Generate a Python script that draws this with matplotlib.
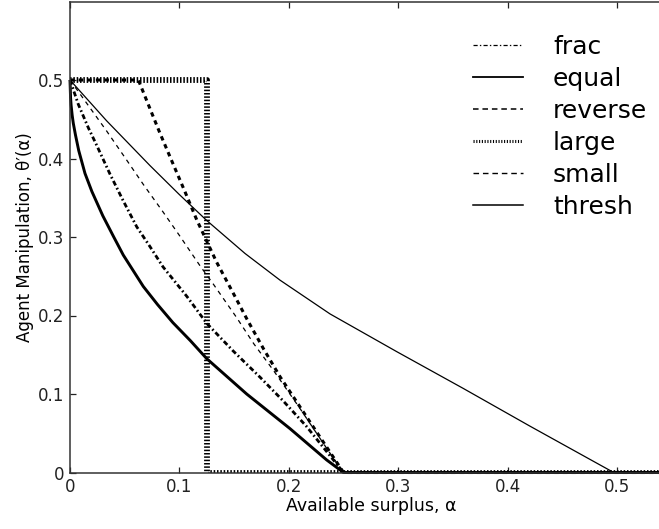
import matplotlib
matplotlib.use("Agg")
import matplotlib.pyplot as plt
from matplotlib.lines import Line2D

plt.rcParams['font.family'] = ['DejaVu Sans']
plt.rcParams['lines.scale_dashes'] = False

# ---- data ----
frac_a = [0, 0.0076, 0.0168, 0.024, 0.0366, 0.0487, 0.061, 0.073, 0.085, 0.107, 0.125, 0.149, 0.174, 0.195, 0.216, 0.235, 0.25, 0.55]
frac_t = [0.5, 0.469, 0.439, 0.418, 0.38, 0.346, 0.313, 0.288, 0.262, 0.224, 0.19, 0.155, 0.121, 0.091, 0.059, 0.026, 0.0, 0.0]

equal_a = [0, 0.0005, 0.001, 0.002, 0.003, 0.005, 0.008, 0.0137, 0.02, 0.03, 0.04, 0.0487, 0.067, 0.08, 0.094, 0.11, 0.125, 0.1615, 0.201, 0.2346, 0.25, 0.55]
equal_t = [0.5, 0.478, 0.468, 0.455, 0.445, 0.43, 0.41, 0.381, 0.358, 0.327, 0.3, 0.277, 0.237, 0.214, 0.191, 0.168, 0.145, 0.1, 0.056, 0.016, 0.0, 0.0]

reverse_a = [0, 0.0625, 0.0747, 0.0823, 0.093, 0.105, 0.1158, 0.134, 0.149, 0.1615, 0.1767, 0.192, 0.201, 0.25, 0.55]
reverse_t = [0.5, 0.5, 0.458, 0.432, 0.397, 0.358, 0.322, 0.268, 0.229, 0.196, 0.158, 0.122, 0.103, 0.0, 0.0]

large_a = [0, 0.125, 0.125, 0.55]
large_t = [0.5, 0.5, 0.0, 0.0]

small_a = [0, 0.0335, 0.0518, 0.067, 0.085, 0.1005, 0.119, 0.131, 0.152, 0.168, 0.186, 0.21, 0.235, 0.25, 0.55]
small_t = [0.5, 0.435, 0.398, 0.367, 0.332, 0.301, 0.263, 0.24, 0.198, 0.164, 0.13, 0.082, 0.03, 0.0, 0.0]

thresh_a = [0, 0.0335, 0.0731, 0.1, 0.125, 0.16, 0.192, 0.2377, 0.2986, 0.3596, 0.4205, 0.4814, 0.497, 0.55]
thresh_t = [0.5, 0.448, 0.391, 0.354, 0.321, 0.279, 0.245, 0.202, 0.154, 0.107, 0.059, 0.012, 0.0, 0.0]

labels = ['frac', 'equal', 'reverse', 'large', 'small', 'thresh']
xticks = [0, 0.1, 0.2, 0.3, 0.4, 0.5]
yticks = [0, 0.1, 0.2, 0.3, 0.4, 0.5]
xticklabels = ['0', '0.1', '0.2', '0.3', '0.4', '0.5']
yticklabels = ['0', '0.1', '0.2', '0.3', '0.4', '0.5']

W, H = 659, 529
fig = plt.figure(figsize=(W / 100, H / 100), dpi=100)
left_px, bottom_px, top_px = 70, 472.5, 1.5
x_per = 1094.0  # px per unit alpha
xmax, ymax = 0.55, 0.6
ax = fig.add_axes([left_px / W, (H - bottom_px) / H, xmax * x_per / W, (bottom_px - top_px) / H])

styles = {
    'frac': dict(ls=(0, (3.6, 2.0, 1.2, 2.0)), lw=2.0),
    'equal': dict(ls='-', lw=2.1),
    'reverse': dict(ls=(0, (3.2, 3.0)), lw=2.2),
    'large': dict(ls=(0, (1.1, 1.3)), lw=4.2),
    'small': dict(ls=(0, (3.2, 3.2)), lw=0.9),
    'thresh': dict(ls='-', lw=0.9),
}
series = {
    'frac': (frac_a, frac_t),
    'equal': (equal_a, equal_t),
    'reverse': (reverse_a, reverse_t),
    'large': (large_a, large_t),
    'small': (small_a, small_t),
    'thresh': (thresh_a, thresh_t),
}
for name in labels:
    a, t = series[name]
    ax.plot(a, t, color='black', clip_on=(name == 'large'),
            solid_capstyle='butt', dash_capstyle='butt', **styles[name])

ax.set_xlim(0, xmax)
ax.set_ylim(0, ymax)
ax.set_xticks(xticks)
ax.set_xticklabels(xticklabels)
ax.set_yticks(yticks)
ax.set_yticklabels(yticklabels)
ax.tick_params(direction='in', length=4, width=0.9, top=True, right=True,
               labelsize=12, pad=4, colors='#222222')
for s in ax.spines.values():
    s.set_linewidth(1.1)
    s.set_color('#333333')

ax.set_xlabel('Available surplus, α', fontsize=12.5, labelpad=1)
ax.set_ylabel('Agent Manipulation, θ\u2032(α)', fontsize=12, labelpad=3)

leg_styles = {
    'frac': dict(ls=(0, (3.0, 1.6, 1.0, 1.6)), lw=0.9),
    'equal': dict(ls='-', lw=1.3),
    'reverse': dict(ls=(0, (4.0, 2.8)), lw=1.1),
    'large': dict(ls=(0, (0.8, 1.2)), lw=2.2),
    'small': dict(ls=(0, (4.0, 2.8)), lw=1.0),
    'thresh': dict(ls='-', lw=1.1),
}
handles = [Line2D([], [], color='black', **leg_styles[n]) for n in labels]
leg = ax.legend(handles, labels, loc='upper left', frameon=False,
                bbox_to_anchor=(473 / W, 1 - 35 / H), bbox_transform=fig.transFigure,
                borderpad=0, borderaxespad=0, fontsize=18, handlelength=2.0,
                handletextpad=1.2, labelspacing=0.32)

fig.savefig('out.png', dpi=100)
